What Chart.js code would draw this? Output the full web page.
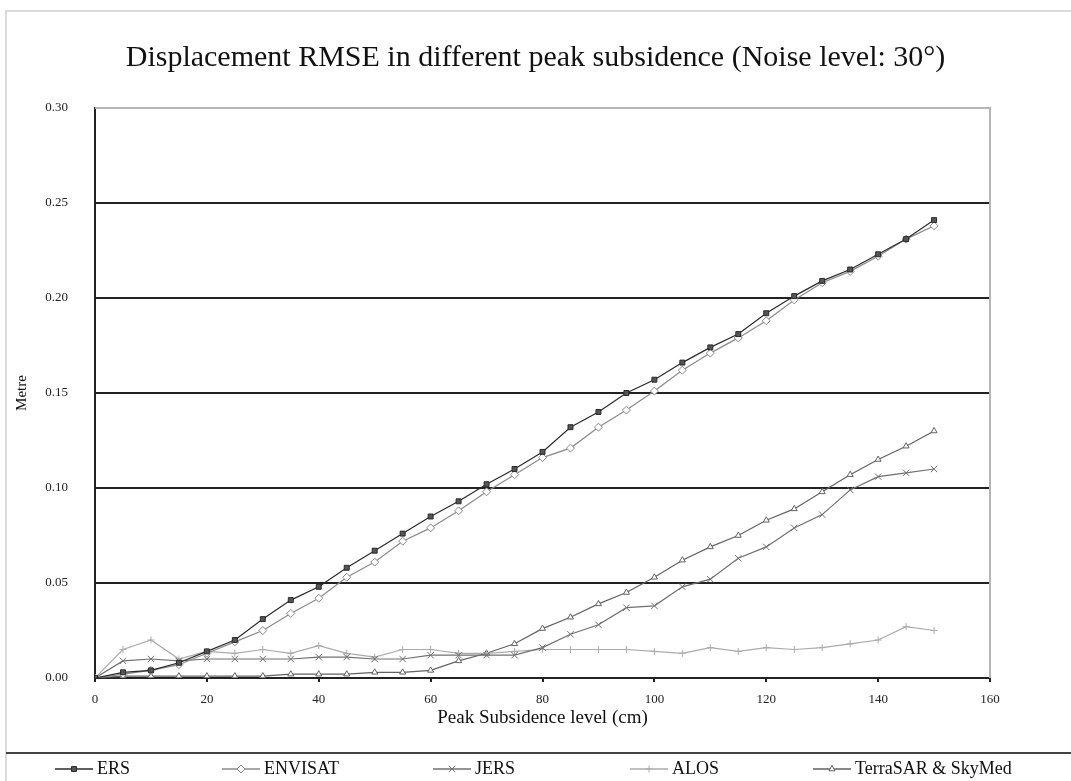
<!DOCTYPE html>
<html>
<head>
<meta charset="utf-8">
<title>Displacement RMSE</title>
<script src="https://cdn.jsdelivr.net/npm/chart.js@4/dist/chart.umd.min.js"></script>
<style>
  html, body { margin: 0; padding: 0; background: #fff; }
  #wrap { width: 1071px; height: 781px; }
</style>
</head>
<body>
<div id="wrap"><canvas id="rmseChart" width="1071" height="781"></canvas></div>
<script>
// peak subsidence levels (cm)
const peakLevels = [0, 5, 10, 15, 20, 25, 30, 35, 40, 45, 50, 55, 60, 65, 70, 75,
  80, 85, 90, 95, 100, 105, 110, 115, 120, 125, 130, 135, 140, 145, 150];

// displacement RMSE (metre)
const ers = [0, 0.003, 0.004, 0.008, 0.014, 0.020, 0.031, 0.041, 0.048, 0.058, 0.067,
  0.076, 0.085, 0.093, 0.102, 0.110, 0.119, 0.132, 0.140, 0.150, 0.157, 0.166, 0.174,
  0.181, 0.192, 0.201, 0.209, 0.215, 0.223, 0.231, 0.241];
const envisat = [0, 0.002, 0.004, 0.007, 0.013, 0.019, 0.025, 0.034, 0.042, 0.053, 0.061,
  0.072, 0.079, 0.088, 0.098, 0.107, 0.116, 0.121, 0.132, 0.141, 0.151, 0.162, 0.171,
  0.179, 0.188, 0.199, 0.208, 0.214, 0.222, 0.231, 0.238];
const jers = [0, 0.009, 0.010, 0.009, 0.010, 0.010, 0.010, 0.010, 0.011, 0.011, 0.010,
  0.010, 0.012, 0.012, 0.012, 0.012, 0.016, 0.023, 0.028, 0.037, 0.038, 0.048, 0.052,
  0.063, 0.069, 0.079, 0.086, 0.099, 0.106, 0.108, 0.110];
const alos = [0, 0.015, 0.020, 0.010, 0.014, 0.013, 0.015, 0.013, 0.017, 0.013, 0.011,
  0.015, 0.015, 0.013, 0.013, 0.014, 0.015, 0.015, 0.015, 0.015, 0.014, 0.013, 0.016,
  0.014, 0.016, 0.015, 0.016, 0.018, 0.020, 0.027, 0.025];
const terrasar = [0, 0.001, 0.001, 0.001, 0.001, 0.001, 0.001, 0.002, 0.002, 0.002, 0.003,
  0.003, 0.004, 0.009, 0.013, 0.018, 0.026, 0.032, 0.039, 0.045, 0.053, 0.062, 0.069,
  0.075, 0.083, 0.089, 0.098, 0.107, 0.115, 0.122, 0.130];

const seriesNames = ["ERS", "ENVISAT", "JERS", "ALOS", "TerraSAR & SkyMed"];
const xTicks = [0, 20, 40, 60, 80, 100, 120, 140, 160];
const yTicks = [0, 0.05, 0.10, 0.15, 0.20, 0.25, 0.30];

const SERIF = "'Liberation Serif', 'DejaVu Serif', serif";

function pts(vals) {
  return vals.map((v, i) => ({ x: peakLevels[i], y: v }));
}

function series(label, vals, color, fill, style, radius) {
  return {
    label: label,
    data: pts(vals),
    yAxisID: "y",
    borderColor: color,
    backgroundColor: fill,
    borderWidth: 1.2,
    pointStyle: style,
    pointRadius: radius,
    pointBorderColor: color,
    pointBackgroundColor: fill,
    pointBorderWidth: 1,
    tension: 0
  };
}

// frame, plot border and the legend strip under the chart
const framePlugin = {
  id: "frame",
  beforeDraw(chart) {
    const c = chart.ctx;
    c.save();
    c.fillStyle = "#fff";
    c.fillRect(0, 0, chart.width, chart.height);
    c.strokeStyle = "#cfcfcf";
    c.lineWidth = 1.5;
    c.beginPath();
    c.moveTo(6, chart.height);
    c.lineTo(6, 11);
    c.lineTo(chart.width, 11);
    c.stroke();
    c.restore();
  },
  afterDraw(chart) {
    const c = chart.ctx;
    const a = chart.chartArea;
    c.save();
    c.strokeStyle = "#b5b5b5";
    c.lineWidth = 2;
    c.beginPath();
    c.moveTo(a.left, a.top);
    c.lineTo(a.right, a.top);
    c.lineTo(a.right, a.bottom);
    c.stroke();

    // separator
    c.strokeStyle = "#444";
    c.lineWidth = 2;
    c.beginPath();
    c.moveTo(6, 753);
    c.lineTo(chart.width, 753);
    c.stroke();

    // legend
    const starts = [55, 222, 433, 630, 813];
    const y = 769;
    c.font = "18px " + SERIF;
    c.textBaseline = "middle";
    chart.data.datasets.forEach((ds, i) => {
      const x0 = starts[i];
      c.strokeStyle = ds.borderColor;
      c.lineWidth = 1.5;
      c.beginPath();
      c.moveTo(x0, y);
      c.lineTo(x0 + 38, y);
      c.stroke();
      c.fillStyle = ds.pointBackgroundColor;
      c.strokeStyle = ds.pointBorderColor;
      c.lineWidth = 1;
      Chart.helpers.drawPoint(c, { pointStyle: ds.pointStyle, radius: ds.pointRadius, borderWidth: 1, rotation: 0 }, x0 + 19, y);
      c.fillStyle = "#111";
      c.fillText(ds.label, x0 + 42, y);
    });
    c.restore();
  }
};

new Chart(document.getElementById("rmseChart"), {
  type: "line",
  data: {
    datasets: [
      series(seriesNames[0], ers, "#2a2a2a", "#555", "rect", 3.5),
      series(seriesNames[1], envisat, "#8a8a8a", "#fff", "rectRot", 4),
      series(seriesNames[2], jers, "#707070", "#707070", "crossRot", 4.5),
      series(seriesNames[3], alos, "#ababab", "#ababab", "cross", 3.5),
      series(seriesNames[4], terrasar, "#626262", "#fff", "triangle", 3.5)
    ]
  },
  options: {
    responsive: false,
    animation: false,
    layout: { padding: { top: 11, left: 6, right: 6, bottom: 43 } },
    plugins: {
      legend: { display: false },
      tooltip: { enabled: false },
      title: {
        display: true,
        text: "Displacement RMSE in different peak subsidence (Noise level: 30°)",
        color: "#111",
        font: { family: SERIF, size: 30, weight: "normal" },
        padding: { top: 29, bottom: 32 }
      }
    },
    scales: {
      x: {
        type: "linear",
        min: 0,
        max: 160,
        afterBuildTicks: s => { s.ticks = xTicks.map(v => ({ value: v })); },
        afterFit: s => { s.height = 60; },
        ticks: {
          color: "#222",
          font: { family: SERIF, size: 13 },
          padding: 10,
          maxRotation: 0
        },
        grid: {
          drawOnChartArea: true,
          color: ctx => (ctx.tick && ctx.tick.value === 160 ? "#b5b5b5" : "rgba(0,0,0,0)"),
          tickColor: "#222",
          tickLength: 4,
          lineWidth: 2
        },
        border: { display: true, color: "#222", width: 2 },
        title: {
          display: true,
          text: "Peak Subsidence level (cm)",
          color: "#111",
          font: { family: SERIF, size: 19 },
          padding: { top: 0, bottom: 9 }
        }
      },
      y: {
        position: "left",
        min: 0,
        max: 0.3,
        afterBuildTicks: s => { s.ticks = yTicks.map(v => ({ value: v })); },
        afterFit: s => { s.width = 89; },
        ticks: {
          color: "#222",
          font: { family: SERIF, size: 13 },
          padding: 22,
          callback: v => Number(v).toFixed(2)
        },
        grid: {
          color: ctx => {
            const v = ctx.tick ? ctx.tick.value : 0;
            if (v <= 0.001) return "rgba(0,0,0,0)";
            return v >= 0.299 ? "#b5b5b5" : "#222";
          },
          tickColor: "rgba(0,0,0,0)",
          tickLength: 5,
          lineWidth: 2
        },
        border: { display: true, color: "#222", width: 2 },
        title: {
          display: true,
          text: "Metre",
          color: "#111",
          font: { family: SERIF, size: 15 },
          padding: { top: 7, bottom: 0 }
        }
      },
      // empty right-hand margin, keeps the plot where the original has it
      yRight: {
        position: "right",
        min: 0,
        max: 0.3,
        afterFit: s => { s.width = 75; },
        ticks: { display: false },
        grid: { display: false },
        border: { display: false }
      }
    }
  },
  plugins: [framePlugin]
});
</script>
</body>
</html>
